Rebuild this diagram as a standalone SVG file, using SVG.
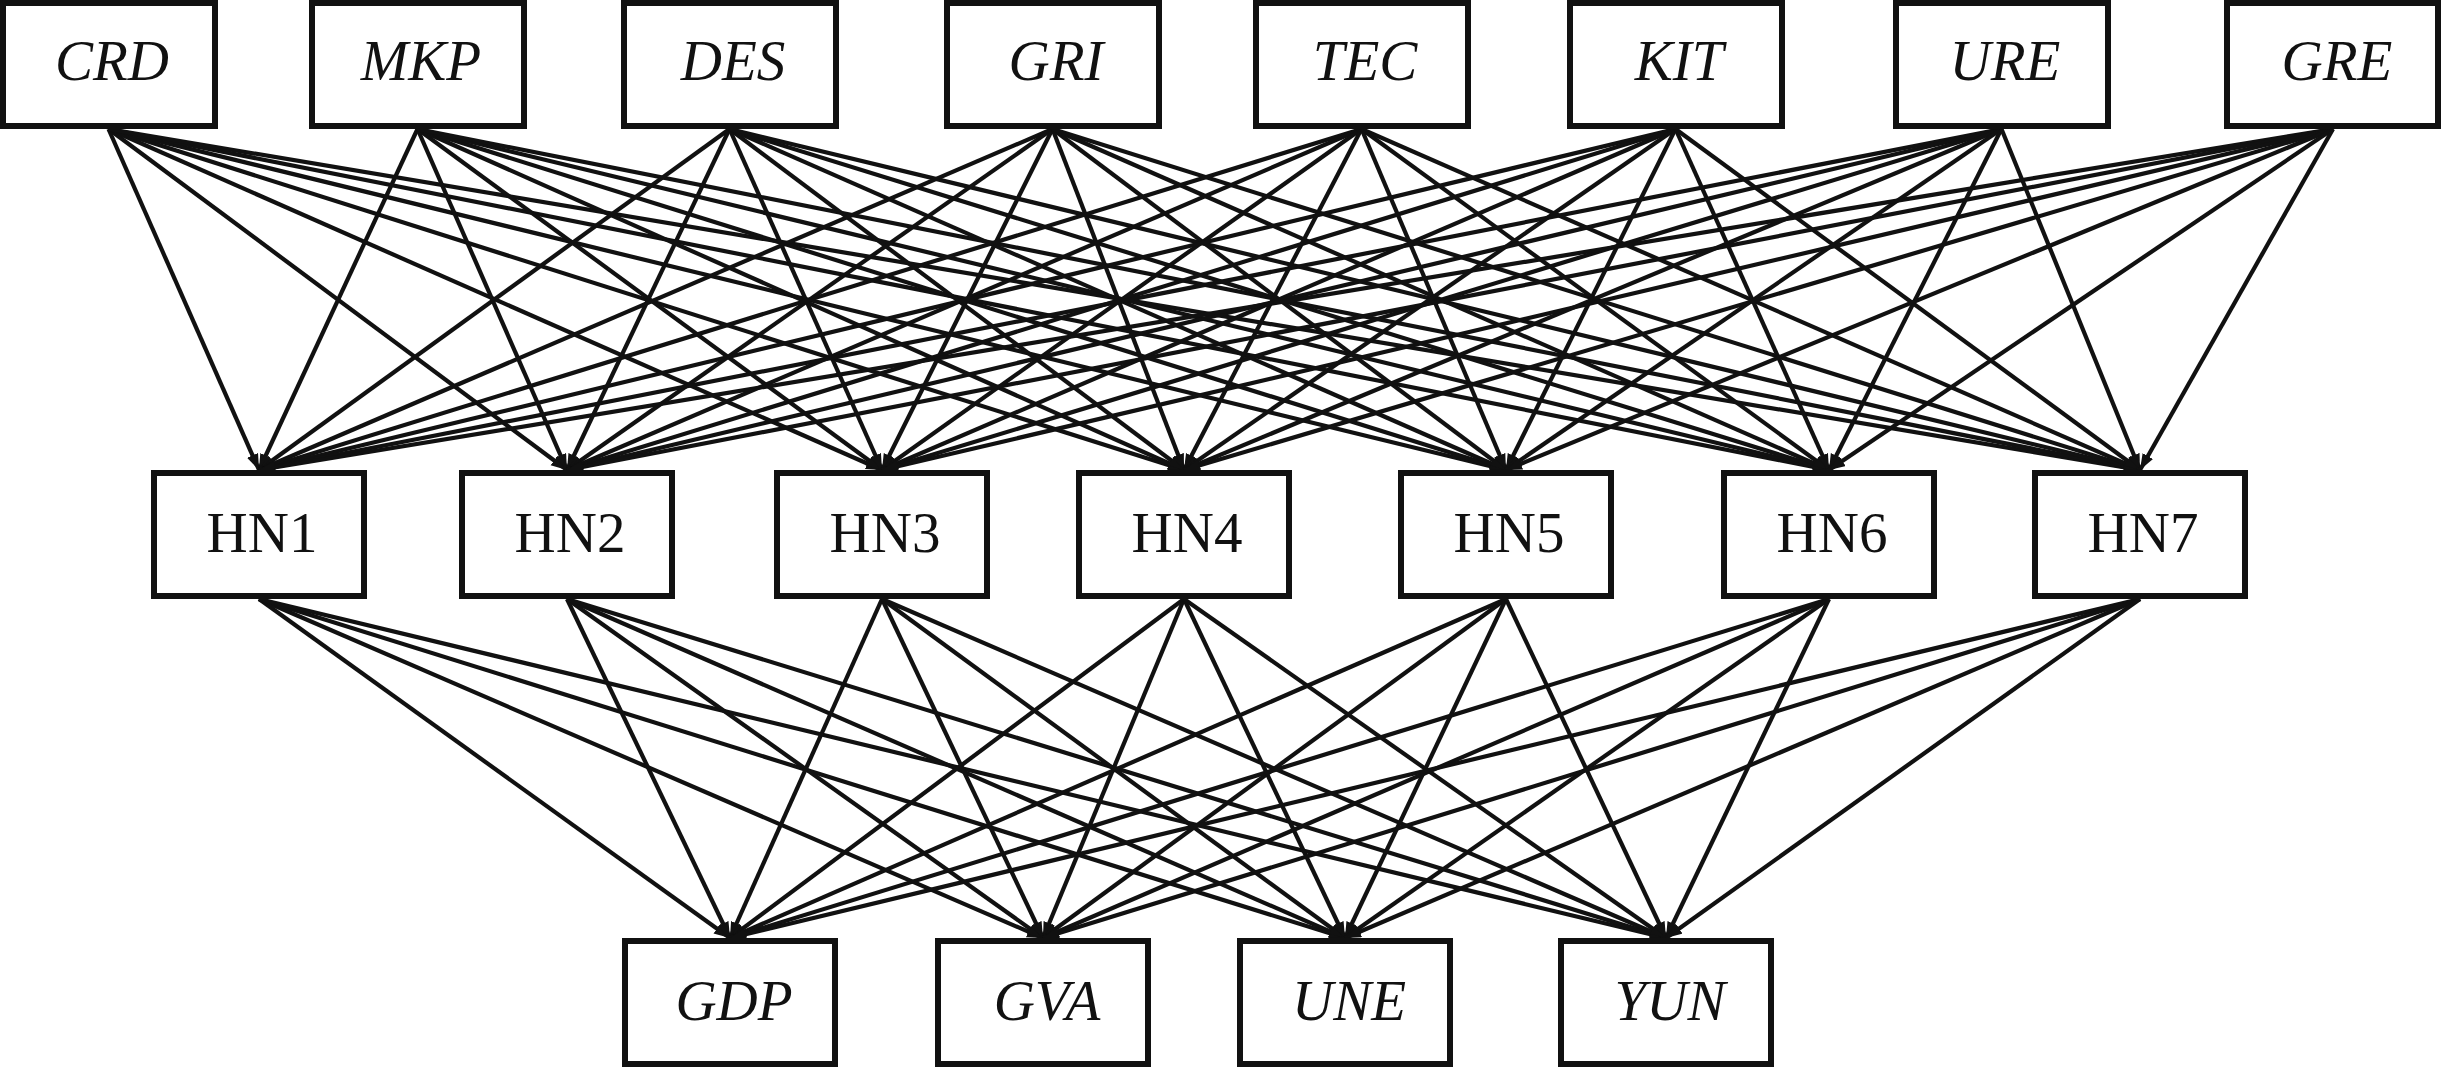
<svg xmlns="http://www.w3.org/2000/svg" width="2443" height="1068" viewBox="0 0 2443 1068">
<style>
.box{fill:#fff;stroke:#111;stroke-width:6}
.it{font-family:"Liberation Serif","Times New Roman",serif;font-style:italic;font-size:57px;fill:#111;text-anchor:middle}
.up{font-family:"Liberation Serif","Times New Roman",serif;font-size:57px;fill:#111;text-anchor:middle}
.e line{stroke:#111;stroke-width:4.2;marker-end:url(#ah)}
</style>
<defs>
<marker id="ah" markerUnits="userSpaceOnUse" markerWidth="18" markerHeight="14" refX="16" refY="6" orient="auto">
<path d="M0,0 L16,6 L0,12 z" fill="#111"/>
</marker>
</defs>
<rect width="2443" height="1068" fill="#fff"/>
<g id="connectors" class="e">
<line x1="108.5" y1="129" x2="259" y2="470"/><line x1="108.5" y1="129" x2="567" y2="470"/><line x1="108.5" y1="129" x2="882" y2="470"/><line x1="108.5" y1="129" x2="1184" y2="470"/><line x1="108.5" y1="129" x2="1506" y2="470"/><line x1="108.5" y1="129" x2="1829" y2="470"/><line x1="108.5" y1="129" x2="2140" y2="470"/>
<line x1="417.5" y1="129" x2="259" y2="470"/><line x1="417.5" y1="129" x2="567" y2="470"/><line x1="417.5" y1="129" x2="882" y2="470"/><line x1="417.5" y1="129" x2="1184" y2="470"/><line x1="417.5" y1="129" x2="1506" y2="470"/><line x1="417.5" y1="129" x2="1829" y2="470"/><line x1="417.5" y1="129" x2="2140" y2="470"/>
<line x1="729.5" y1="129" x2="259" y2="470"/><line x1="729.5" y1="129" x2="567" y2="470"/><line x1="729.5" y1="129" x2="882" y2="470"/><line x1="729.5" y1="129" x2="1184" y2="470"/><line x1="729.5" y1="129" x2="1506" y2="470"/><line x1="729.5" y1="129" x2="1829" y2="470"/><line x1="729.5" y1="129" x2="2140" y2="470"/>
<line x1="1052.5" y1="129" x2="259" y2="470"/><line x1="1052.5" y1="129" x2="567" y2="470"/><line x1="1052.5" y1="129" x2="882" y2="470"/><line x1="1052.5" y1="129" x2="1184" y2="470"/><line x1="1052.5" y1="129" x2="1506" y2="470"/><line x1="1052.5" y1="129" x2="1829" y2="470"/><line x1="1052.5" y1="129" x2="2140" y2="470"/>
<line x1="1361.5" y1="129" x2="259" y2="470"/><line x1="1361.5" y1="129" x2="567" y2="470"/><line x1="1361.5" y1="129" x2="882" y2="470"/><line x1="1361.5" y1="129" x2="1184" y2="470"/><line x1="1361.5" y1="129" x2="1506" y2="470"/><line x1="1361.5" y1="129" x2="1829" y2="470"/><line x1="1361.5" y1="129" x2="2140" y2="470"/>
<line x1="1675.5" y1="129" x2="259" y2="470"/><line x1="1675.5" y1="129" x2="567" y2="470"/><line x1="1675.5" y1="129" x2="882" y2="470"/><line x1="1675.5" y1="129" x2="1184" y2="470"/><line x1="1675.5" y1="129" x2="1506" y2="470"/><line x1="1675.5" y1="129" x2="1829" y2="470"/><line x1="1675.5" y1="129" x2="2140" y2="470"/>
<line x1="2001.5" y1="129" x2="259" y2="470"/><line x1="2001.5" y1="129" x2="567" y2="470"/><line x1="2001.5" y1="129" x2="882" y2="470"/><line x1="2001.5" y1="129" x2="1184" y2="470"/><line x1="2001.5" y1="129" x2="1506" y2="470"/><line x1="2001.5" y1="129" x2="1829" y2="470"/><line x1="2001.5" y1="129" x2="2140" y2="470"/>
<line x1="2333" y1="129" x2="259" y2="470"/><line x1="2333" y1="129" x2="567" y2="470"/><line x1="2333" y1="129" x2="882" y2="470"/><line x1="2333" y1="129" x2="1184" y2="470"/><line x1="2333" y1="129" x2="1506" y2="470"/><line x1="2333" y1="129" x2="1829" y2="470"/><line x1="2333" y1="129" x2="2140" y2="470"/>
<line x1="259" y1="599" x2="730" y2="938"/><line x1="259" y1="599" x2="1043" y2="938"/><line x1="259" y1="599" x2="1345" y2="938"/><line x1="259" y1="599" x2="1666" y2="938"/>
<line x1="567" y1="599" x2="730" y2="938"/><line x1="567" y1="599" x2="1043" y2="938"/><line x1="567" y1="599" x2="1345" y2="938"/><line x1="567" y1="599" x2="1666" y2="938"/>
<line x1="882" y1="599" x2="730" y2="938"/><line x1="882" y1="599" x2="1043" y2="938"/><line x1="882" y1="599" x2="1345" y2="938"/><line x1="882" y1="599" x2="1666" y2="938"/>
<line x1="1184" y1="599" x2="730" y2="938"/><line x1="1184" y1="599" x2="1043" y2="938"/><line x1="1184" y1="599" x2="1345" y2="938"/><line x1="1184" y1="599" x2="1666" y2="938"/>
<line x1="1506" y1="599" x2="730" y2="938"/><line x1="1506" y1="599" x2="1043" y2="938"/><line x1="1506" y1="599" x2="1345" y2="938"/><line x1="1506" y1="599" x2="1666" y2="938"/>
<line x1="1829" y1="599" x2="730" y2="938"/><line x1="1829" y1="599" x2="1043" y2="938"/><line x1="1829" y1="599" x2="1345" y2="938"/><line x1="1829" y1="599" x2="1666" y2="938"/>
<line x1="2140" y1="599" x2="730" y2="938"/><line x1="2140" y1="599" x2="1043" y2="938"/><line x1="2140" y1="599" x2="1345" y2="938"/><line x1="2140" y1="599" x2="1666" y2="938"/>
</g>
<g id="CRD"><rect class="box" x="3" y="3" width="212" height="123"/><text class="it" x="112" y="80">CRD</text></g>
<g id="MKP"><rect class="box" x="312" y="3" width="212" height="123"/><text class="it" x="421" y="80">MKP</text></g>
<g id="DES"><rect class="box" x="624" y="3" width="212" height="123"/><text class="it" x="733" y="80">DES</text></g>
<g id="GRI"><rect class="box" x="947" y="3" width="212" height="123"/><text class="it" x="1056" y="80">GRI</text></g>
<g id="TEC"><rect class="box" x="1256" y="3" width="212" height="123"/><text class="it" x="1365" y="80">TEC</text></g>
<g id="KIT"><rect class="box" x="1570" y="3" width="212" height="123"/><text class="it" x="1679" y="80">KIT</text></g>
<g id="URE"><rect class="box" x="1896" y="3" width="212" height="123"/><text class="it" x="2005" y="80">URE</text></g>
<g id="GRE"><rect class="box" x="2227" y="3" width="211" height="123"/><text class="it" x="2337" y="80">GRE</text></g>
<g id="HN1"><rect class="box" x="154" y="473" width="210" height="123"/><text class="up" x="262" y="552">HN1</text></g>
<g id="HN2"><rect class="box" x="462" y="473" width="210" height="123"/><text class="up" x="570" y="552">HN2</text></g>
<g id="HN3"><rect class="box" x="777" y="473" width="210" height="123"/><text class="up" x="885" y="552">HN3</text></g>
<g id="HN4"><rect class="box" x="1079" y="473" width="210" height="123"/><text class="up" x="1187" y="552">HN4</text></g>
<g id="HN5"><rect class="box" x="1401" y="473" width="210" height="123"/><text class="up" x="1509" y="552">HN5</text></g>
<g id="HN6"><rect class="box" x="1724" y="473" width="210" height="123"/><text class="up" x="1832" y="552">HN6</text></g>
<g id="HN7"><rect class="box" x="2035" y="473" width="210" height="123"/><text class="up" x="2143" y="552">HN7</text></g>
<g id="GDP"><rect class="box" x="625" y="941" width="210" height="123"/><text class="it" x="734" y="1020">GDP</text></g>
<g id="GVA"><rect class="box" x="938" y="941" width="210" height="123"/><text class="it" x="1047" y="1020">GVA</text></g>
<g id="UNE"><rect class="box" x="1240" y="941" width="210" height="123"/><text class="it" x="1349" y="1020">UNE</text></g>
<g id="YUN"><rect class="box" x="1561" y="941" width="210" height="123"/><text class="it" x="1670" y="1020">YUN</text></g>
</svg>
